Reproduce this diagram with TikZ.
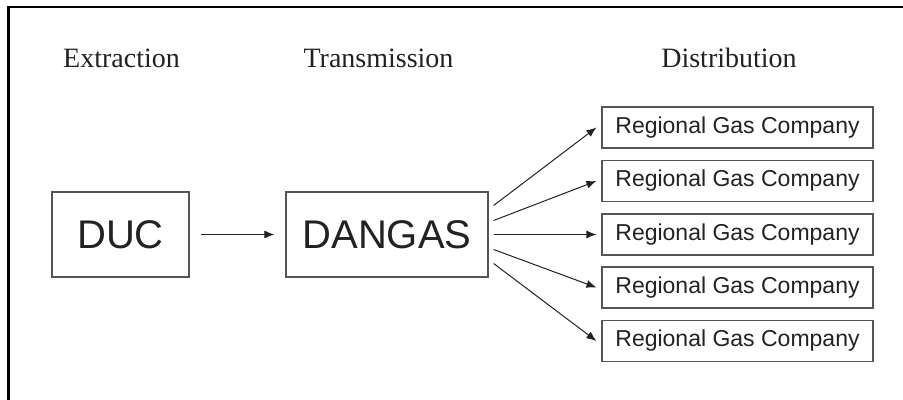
\documentclass[tikz,border=0pt]{standalone}
\usepackage{fontspec}
\setmainfont{Liberation Serif}
\newfontfamily\arialfont{Liberation Sans}
\usetikzlibrary{arrows.meta}
\definecolor{txt}{HTML}{222222}
\definecolor{boxline}{HTML}{555555}
\tikzset{
  header/.style={anchor=base, font=\fontsize{14}{16}\selectfont, text=txt, inner sep=0pt},
  bigbox/.style={draw=boxline, line width=0.6pt, minimum height=42.5pt, inner sep=0pt,
                 font=\arialfont\fontsize{20}{24}\selectfont, text=txt},
  rgcbox/.style={draw=boxline, line width=0.6pt, minimum width=135.5pt, minimum height=20.5pt,
                 inner sep=0pt, font=\arialfont\fontsize{11.5}{13}\selectfont, text=txt},
  arr/.style={draw=txt, line width=0.5pt, -{Latex[length=5pt,width=4pt]}},
  frameline/.style={draw=black, line width=1.3pt}
}
\begin{document}
\begin{tikzpicture}[x=0.5pt,y=-0.5pt]
\useasboundingbox (0,0) rectangle (903,400);
\draw[frameline] (8.5,400) -- (8.5,7) -- (903,7);

\node[header] (hext) at (121.5,68) {Extraction};
\node[header] (htra) at (378.5,68) {Transmission};
\node[header] (hdis) at (729,68) {Distribution};

\node[bigbox, minimum width=68.5pt] (duc) at (120.5,234.5) {DUC};
\node[bigbox, minimum width=101pt] (dangas) at (387,234.5) {DANGAS};

\node[rgcbox] (r1) at (737.5,127.5) {Regional Gas Company};
\node[rgcbox] (r2) at (737.5,181) {Regional Gas Company};
\node[rgcbox] (r3) at (737.5,234.5) {Regional Gas Company};
\node[rgcbox] (r4) at (737.5,287.5) {Regional Gas Company};
\node[rgcbox] (r5) at (737.5,341) {Regional Gas Company};

\draw[arr] ([xshift=5.5pt]duc.east) -- ([xshift=-5.5pt]dangas.west);

\draw[arr] ([xshift=2.5pt,yshift=14.5pt]dangas.east) -- ([xshift=-2.5pt]r1.west);
\draw[arr] ([xshift=2.5pt,yshift=7pt]dangas.east) -- ([xshift=-2.5pt]r2.west);
\draw[arr] ([xshift=2.5pt]dangas.east) -- ([xshift=-2.5pt]r3.west);
\draw[arr] ([xshift=2.5pt,yshift=-7.5pt]dangas.east) -- ([xshift=-2.5pt]r4.west);
\draw[arr] ([xshift=2.5pt,yshift=-14.5pt]dangas.east) -- ([xshift=-2.5pt]r5.west);
\end{tikzpicture}
\end{document}
